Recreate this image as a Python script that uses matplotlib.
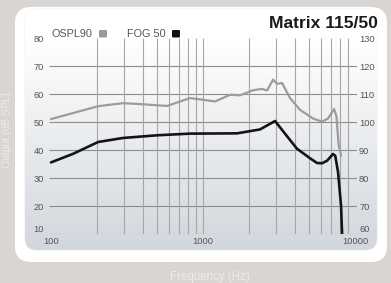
import numpy as np
import matplotlib.pyplot as plt
from matplotlib.patches import FancyBboxPatch

plt.rcParams['font.family'] = ['Liberation Sans', 'DejaVu Sans']

# OSPL90 curve, dB SPL (right scale)
ospl_freq = [100, 204, 298, 403, 579, 821, 1000, 1200, 1507, 1751, 2132, 2444,
             2636, 2888, 3069, 3311, 3737, 4346, 5292, 6068, 6643, 7278, 7550,
             7800, 8100]
ospl_db = [101.1, 105.7, 106.8, 106.4, 105.8, 108.6, 108.0, 107.4, 109.8, 109.6,
           111.4, 111.9, 111.3, 115.2, 113.7, 114.0, 108.6, 104.4, 101.3, 100.2,
           101.3, 104.7, 102.0, 92.0, 88.0]

# FOG 50 curve, dB gain (left scale)
fog_freq = [100, 140, 204, 298, 498, 821, 1675, 2371, 2978, 3461, 4150, 5055,
            5623, 6068, 6546, 7166, 7409, 7731, 8094, 8222]
fog_db = [35.6, 38.7, 42.9, 44.35, 45.3, 45.9, 46.0, 47.4, 50.4, 45.9, 40.5,
          37.1, 35.4, 35.3, 36.2, 38.6, 38.0, 32.2, 20.0, 10.0]

left_ticks = [10, 20, 30, 40, 50, 60, 70, 80]
right_ticks = [60, 70, 80, 90, 100, 110, 120, 130]
x_ticks = [100, 1000, 10000]
x_labels = ['100', '1000', '10000']
grid_freqs = [200, 300, 400, 500, 600, 700, 800, 900, 1000,
              2000, 3000, 4000, 5000, 6000, 7000, 8000, 9000]
grid_levels = [10, 20, 30, 40, 50, 60, 70]

W, H = 391, 283
fig = plt.figure(figsize=(W / 100, H / 100), dpi=100)
fig.patch.set_facecolor('#d8d5d2')

# background card, pixel coords
bg = fig.add_axes([0, 0, 1, 1])
bg.set_xlim(0, W)
bg.set_ylim(H, 0)
bg.axis('off')
card = FancyBboxPatch((15, 7), 372, 255, boxstyle='round,pad=0,rounding_size=16',
                      facecolor='white', edgecolor='none')
bg.add_patch(card)
panel = FancyBboxPatch((25, 9), 352, 241, boxstyle='round,pad=0,rounding_size=12',
                       facecolor='none', edgecolor='#f4f4f4', lw=1)
bg.add_patch(panel)
top = np.array([1.0, 1.0, 1.0])
bot = np.array([210, 215, 221]) / 255
t = np.clip((np.linspace(9, 250, 200) - 40) / 210, 0, 1)[:, None]
grad = (top * (1 - t) + bot * t)[:, None, :]
im = bg.imshow(grad, extent=[25, 377, 250, 9], aspect='auto', zorder=1)
im.set_clip_path(panel)

bg.text(52, 34, 'OSPL90', fontsize=7.8, color='#555555', va='center', ha='left')
bg.add_patch(FancyBboxPatch((99, 30), 8, 7.5, boxstyle='round,pad=0,rounding_size=1.2',
                            facecolor='#9a9a9a', edgecolor='none', zorder=3))
bg.text(127, 34, 'FOG 50', fontsize=7.8, color='#555555', va='center', ha='left')
bg.add_patch(FancyBboxPatch((172, 30), 8, 7.5, boxstyle='round,pad=0,rounding_size=1.2',
                            facecolor='#111111', edgecolor='none', zorder=3))
bg.text(378, 28, 'Matrix 115/50', fontsize=12.6, fontweight='bold', color='#1a1a1a',
        ha='right', va='baseline')
bg.text(210, 277, 'Frequency (Hz)', fontsize=8.3, color='#ececec', ha='center', va='center')
bg.text(7, 130, 'Output (dB SPL)', fontsize=7.5, color='#ececec', ha='center',
        va='center', rotation=90)

ax = fig.add_axes([49 / W, (H - 234) / H, 308 / W, 196 / H])
ax.set_facecolor('none')
ax.set_xscale('log')
ax.set_xlim(97, 10304)
ax.set_ylim(10, 80.1)
for s in ax.spines.values():
    s.set_visible(False)

ax.hlines(grid_levels, 0, 1, transform=ax.get_yaxis_transform(), color='#8c8c8c', lw=0.8)
ax.vlines(grid_freqs, 0, 1, transform=ax.get_xaxis_transform(), color='#a6a6a6', lw=0.8)

ax.plot(fog_freq, fog_db, color='#141414', lw=1.9, solid_capstyle='round', zorder=4)

ax.set_yticks(left_ticks)
ax.set_xticks(x_ticks)
ax.set_xticklabels(x_labels)
ax.minorticks_off()
ax.tick_params(axis='y', length=0, pad=3.5, labelsize=6.7, labelcolor='#555555')
ax.tick_params(axis='x', length=0, pad=2.5, labelsize=6.7, labelcolor='#555555')
ax.get_yticklabels()[0].set_verticalalignment('bottom')

ax2 = ax.twinx()
ax2.set_ylim(60, 130.1)
for s in ax2.spines.values():
    s.set_visible(False)
ax2.plot(ospl_freq, ospl_db, color='#9c9c9c', lw=1.6, solid_capstyle='round', zorder=3)
ax2.set_yticks(right_ticks)
ax2.tick_params(axis='y', length=0, pad=1.5, labelsize=6.7, labelcolor='#555555')
for lab in ax2.get_yticklabels():
    lab.set_horizontalalignment('left')
ax2.get_yticklabels()[0].set_verticalalignment('bottom')

fig.savefig('out.png', dpi=100)
